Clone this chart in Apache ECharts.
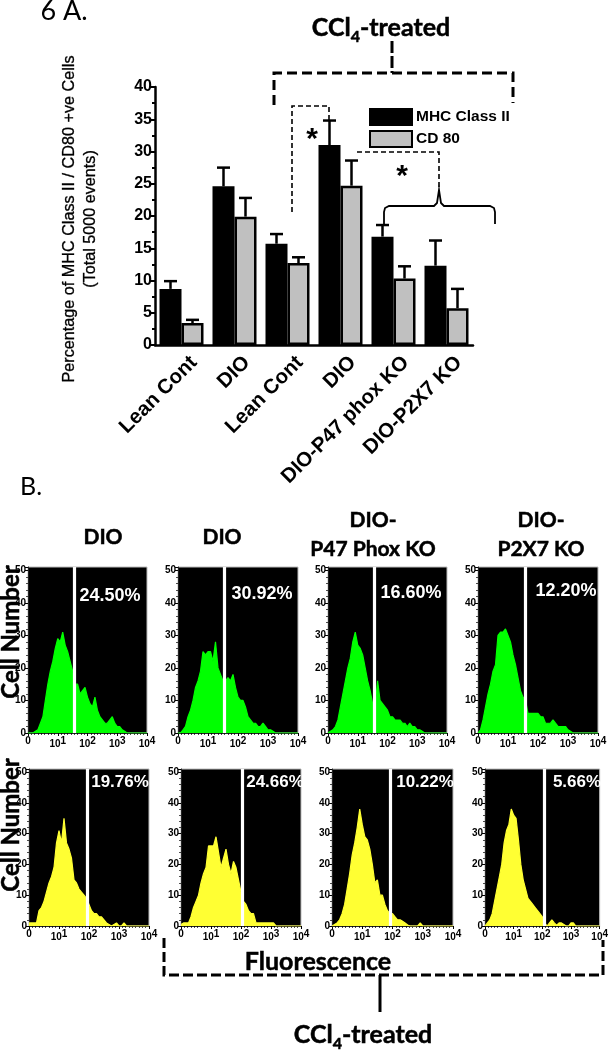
<!DOCTYPE html>
<html><head><meta charset="utf-8">
<style>html,body{margin:0;padding:0;background:#fff}#c{width:611px;height:1050px}</style>
<script src="https://cdn.jsdelivr.net/npm/echarts@6/dist/echarts.min.js"></script>
</head><body><div id="c"></div>
<script>
// ---- Panel A data ----
const barCategories = ['Lean Cont','DIO','Lean Cont','DIO','DIO-P47 phox KO','DIO-P2X7 KO'];
const mhcValues = [8.7,24.6,15.7,31.0,16.8,12.3];
const mhcUpper  = [9.9,27.5,17.2,34.8,18.6,16.2];
const cd80Values = [3.4,19.9,12.7,24.7,10.3,5.7];
const cd80Upper  = [3.9,22.8,13.6,28.6,12.2,8.7];
// ---- Panel B data: cell counts per 1/12-decade bin ----
const histDio      = [0,0,0,0.5,1,3,5,10,15,19,22,26,29,28,31,27,25,22,19,15,15,12,13,14,11,9,8,11,7,5,4,3,3,4,5,3,2,2,1,0.5,0];
const histCcl      = [0,0,1,2,5,7,10,14,16,19,25,24,25,25,22,28,20,18,16,16,17,16,18,14,11,10,10,8,5,4,3,3,2,2,3,2,1,1,0.5,0];
const histP47      = [0,0.5,1,2,4,8,12,16,20,23,28,31,27,26,24,20,16,13,9,8,16,10,9,8,7,5,5,4,4,4,3,3,2,3,2,2,1,1,0.5,0];
const histP2x7     = [0,1,4,8,12,15,19,21,30,31,31,32,30,28,24,21,17,13,11,10,6,6,6,6,6,5,5,3,3,3,4,3,2,2,2,2,1,0.5,0];
const cd80Dio      = [1,1,1,1,5,6,8,11,14,16,19,27,31,27,35,27,25,22,15,14,12,11,10,9,7,5,4,4,3,3,2,1,0.5,0,0.5,1,0,0,1,0];
const cd80Ccl      = [0.5,1,1,1,3,6,8,10,14,17,19,26,26,26,29,24,19,22,25,20,17,21,19,15,11,8,7,5,4,4,1,1,1,1,1,1,1,1,0];
const cd80P47      = [0,0.5,1,2,4,7,12,17,23,27,32,38,33,29,28,25,20,14,15,10,10,7,5,4,4,3,2,2,1.5,1,0.3,0,0,0,0,1,0];
const cd80P2x7     = [0,1,2,4,8,12,16,20,27,31,33,38,36,35,28,20,15,12,9,8,7,6,5,4,3,1,0,1,2,1,0.3,1,1,0.5,0,0,1,1,0];
const histograms = [histDio,histCcl,histP47,histP2x7,cd80Dio,cd80Ccl,cd80P47,cd80P2x7];
const gateDecades = [1.54,1.53,1.56,1.57,1.95,2.05,1.93,2.05];
const gatePercent = ['24.50%','30.92%','16.60%','12.20%','19.76%','24.66%','10.22%','5.66%'];
const decadeTicks = [0,1,2,3,4];
const countTicksMax = 50;

// ---- Layout ----
const panels = [
 {l:28,r:147,t:567,b:733,px:110,py:596,c:'#00ff00'},
 {l:178,r:298,t:567,b:733,px:262,py:594,c:'#00ff00'},
 {l:328,r:447,t:567,b:733,px:411,py:593,c:'#00ff00'},
 {l:478,r:598,t:567,b:733,px:566,py:591,c:'#00ff00'},
 {l:29,r:149,t:769,b:926,px:120,py:782,c:'#ffff33'},
 {l:181,r:301,t:769,b:926,px:275,py:782,c:'#ffff33'},
 {l:332,r:453,t:769,b:926,px:425,py:782,c:'#ffff33'},
 {l:485,r:605,t:769,b:926,px:577,py:782,c:'#ffff33'}
];
const BOLD='"Liberation Sans",Arial,sans-serif';
const HEAD='Lato,"Noto Sans",sans-serif';
const NARROW='"Liberation Sans Narrow","Liberation Sans",sans-serif';

const grid=[{left:155,top:87,width:318,height:258}];
const xAxis=[{type:'category',gridIndex:0,data:barCategories,
  axisLine:{lineStyle:{color:'#000',width:2.5}},axisTick:{show:false},
  axisLabel:{rotate:45,interval:0,margin:12,align:'right',verticalAlign:'top',padding:[0,-7,0,0],
    color:'#000',fontFamily:BOLD,fontSize:20.5,fontWeight:'bold'}}];
const yAxis=[{type:'value',gridIndex:0,min:0,max:40,interval:5,
  name:'Percentage of MHC Class II / CD80 +ve Cells\n(Total 5000 events)',
  nameLocation:'middle',nameRotate:90,nameGap:54,
  nameTextStyle:{color:'#000',fontFamily:BOLD,fontSize:16.2,lineHeight:21,textBorderColor:'#000',textBorderWidth:0.3,padding:[0,6,0,0]},
  axisLine:{show:true,lineStyle:{color:'#000',width:2.5}},
  axisTick:{show:true,length:6,lineStyle:{color:'#000',width:2}},
  minorTick:{show:true,splitNumber:2,length:3,lineStyle:{color:'#000',width:2}},
  splitLine:{show:false},
  axisLabel:{margin:3,color:'#000',fontFamily:BOLD,fontSize:16,fontWeight:'bold'}}];

function errorBars(upper,base,dir){
  return {type:'custom',xAxisIndex:0,yAxisIndex:0,z:1,silent:true,
    data:upper.map((u,i)=>[i,base[i],u]),encode:{x:0,y:[1,2]},
    renderItem:(p,api)=>{
      const bw=api.size([1,0])[0]*22/53, cx=api.coord([api.value(0),0])[0]+dir*bw/2;
      const y0=api.coord([0,api.value(1)])[1], y1=api.coord([0,api.value(2)])[1];
      return {type:'group',children:[
        {type:'line',shape:{x1:cx,y1:y0,x2:cx,y2:y1},style:{stroke:'#000',lineWidth:2.5}},
        {type:'line',shape:{x1:cx-6.5,y1:y1,x2:cx+6.5,y2:y1},style:{stroke:'#000',lineWidth:2.5}}
      ]};
    }};
}
const series=[
 {name:'MHC Class II',type:'bar',xAxisIndex:0,yAxisIndex:0,data:mhcValues,barWidth:22,barGap:'0%',z:2,
  itemStyle:{color:'#000',borderColor:'#000',borderWidth:2}},
 {name:'CD 80',type:'bar',xAxisIndex:0,yAxisIndex:0,data:cd80Values,barWidth:22,z:2,
  itemStyle:{color:'#c0c0c0',borderColor:'#000',borderWidth:2.5}},
 errorBars(mhcUpper,mhcValues,-1),
 errorBars(cd80Upper,cd80Values,1)
];
const sup={a:{fontFamily:NARROW,fontSize:10,color:'#000',fontWeight:'bold'},b:{fontFamily:NARROW,fontSize:10,color:'#000',fontWeight:'bold',padding:[0,0,6,0]}};
panels.forEach((p,i)=>{
  const g=i+1;
  grid.push({left:p.l,top:p.t,width:p.r-p.l,height:p.b-p.t,show:true,backgroundColor:'#000',borderColor:'#bbb',borderWidth:1});
  xAxis.push({type:'value',gridIndex:g,min:decadeTicks[0],max:decadeTicks[4],interval:1,
    axisLine:{lineStyle:{color:'#222',width:1}},
    axisTick:{show:true,length:3,lineStyle:{color:'#000',width:1}},
    minorTick:{show:true,splitNumber:9,length:2,lineStyle:{color:'#000',width:.7}},
    splitLine:{show:false},
    axisLabel:{margin:3,showMaxLabel:true,hideOverlap:false,rich:sup,
      formatter:v=>v===0?'{a|0}':`{a|10}{b|${v}}`}});
  yAxis.push({type:'value',gridIndex:g,min:0,max:countTicksMax*1.02,interval:10,
    axisLine:{show:true,lineStyle:{color:'#222',width:1}},
    axisTick:{show:true,length:3,lineStyle:{color:'#000',width:1}},
    minorTick:{show:true,splitNumber:5,length:2,lineStyle:{color:'#000',width:.7}},
    splitLine:{show:false},
    axisLabel:{margin:2,color:'#000',fontFamily:NARROW,fontSize:10,fontWeight:'bold',
      formatter:v=>v%10===0?String(v):''}});
  const pts=histograms[i].map((v,k)=>[k/12,v]); pts.push([4,0]);
  series.push({type:'line',xAxisIndex:g,yAxisIndex:g,data:pts,symbol:'none',silent:true,z:3,
    lineStyle:{color:p.c,width:1.2},areaStyle:{color:p.c,opacity:1},
    markLine:{silent:true,symbol:'none',label:{show:false},animation:false,z:5,
      lineStyle:{color:'#fff',width:3.2,type:'solid'},data:[{xAxis:gateDecades[i]}]}});
});

// ---- Annotations ----
const T=(text,x,y,font,size,opt={})=>({type:'text',x,y,rotation:opt.rot||0,z:20,silent:true,
  style:{text,fontFamily:font,fontSize:size,fontWeight:opt.w||'bold',fill:opt.fill||'#000',
  stroke:opt.heavy?'#000':null,lineWidth:opt.heavy?0.5:0,
  align:'center',verticalAlign:'middle',textAlign:'center',textVerticalAlign:'middle',rich:opt.rich}});
const PL=(pts,w,dash)=>({type:'polyline',z:15,silent:true,shape:{points:pts},
  style:{stroke:'#000',fill:null,lineWidth:w,lineDash:dash||null}});
const ccl={a:{fontFamily:HEAD,fontSize:25,fontWeight:'bold',fill:'#000',color:'#000',lineHeight:30,verticalAlign:'top',stroke:'#000',lineWidth:0.5},
           s:{fontFamily:HEAD,fontSize:16,fontWeight:'bold',fill:'#000',color:'#000',verticalAlign:'bottom',stroke:'#000',lineWidth:0.5}};
const cclText='{a|CCl}{s|4}{a|-treated}';
const H={heavy:true};
const elements=[
 T('6 A.',64,11,HEAD,27,{w:'normal'}),
 T('B.',31,487,HEAD,25,{w:'normal'}),
 T(cclText,381,30,HEAD,25,{rich:ccl}),
 T(cclText,363,1037,HEAD,25,{rich:ccl}),
 T('Fluorescence',318,962,HEAD,25,H),
 T('Cell Number',11,632,HEAD,24,{rot:Math.PI/2,heavy:true}),
 T('Cell Number',11,825,HEAD,24,{rot:Math.PI/2,heavy:true}),
 T('DIO',103,537,HEAD,21,H),T('DIO',222,537,HEAD,21,H),
 T('DIO-',373,520,HEAD,21,H),T('P47 Phox KO',373,549,HEAD,21,H),
 T('DIO-',541,520,HEAD,21,H),T('P2X7 KO',541,549,HEAD,21,H),
 T('*',312,140,BOLD,30),T('*',402,177,BOLD,30),
 PL([[274,105],[274,73],[513,73],[513,103]],3,[10,5]),
 PL([[392,41],[392,73]],3,[12,3]),
 PL([[292,212],[292,106],[329,106],[329,120]],1.6,[5,3]),
 PL([[357,152],[439,152],[439,188]],1.6,[5,3]),
 PL([[384,225],[384,212],[385,208],[389,206],[434,206],[437,203],[439,190],[441,203],[444,206],[490,206],[494,208],[495,212],[495,224]],1.8),
 PL([[164,938],[164,975],[603,975],[603,940]],3,[10,4]),
 PL([[380,975],[380,1012]],3)
];
panels.forEach((p,i)=>elements.push(T(gatePercent[i],p.px,p.py,BOLD,i>3?17:18,{fill:'#fff'})));

const chart=echarts.init(document.getElementById('c'),null,{renderer:'canvas'});
chart.setOption({animation:false,backgroundColor:'#fff',grid,xAxis,yAxis,series,
  legend:{data:['MHC Class II','CD 80'],orient:'vertical',left:369,top:108,itemWidth:42,itemHeight:16,itemGap:4,
    icon:'rect',selectedMode:false,padding:0,
    textStyle:{color:'#000',fontFamily:BOLD,fontSize:15.5,fontWeight:'bold',padding:[0,0,0,-1]}},
  graphic:{elements}});
</script></body></html>
